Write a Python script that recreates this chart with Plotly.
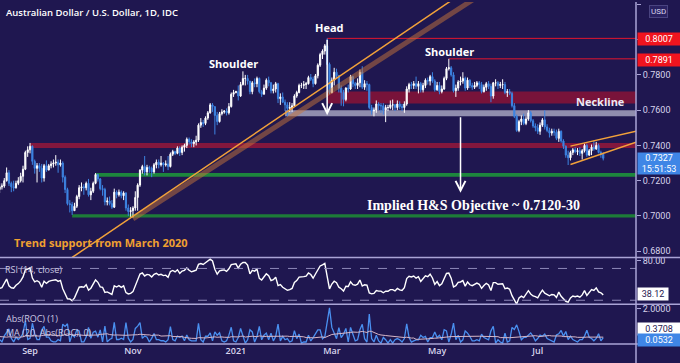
import numpy as np
import pandas as pd
import plotly.graph_objects as go

# ---------------- data (daily AUD/USD) ----------------
START_DATE = "2020-07-15"
END_DATE = "2021-08-10"
FIRST_OPEN = 0.7000

CLOSE = [
    # Jul 15 - Aug 12 2020 (warm-up, off screen)
    0.7020, 0.6990, 0.7000, 0.7020, 0.7110, 0.7140, 0.7090, 0.7100, 0.7120, 0.7140, 0.7170, 0.7170, 0.7145,
    0.7110, 0.7150, 0.7200, 0.7210, 0.7160, 0.7150, 0.7140, 0.7150,
    # Aug 13 - 31
    0.7165, 0.7170, 0.7200, 0.7245, 0.7185, 0.7165, 0.7160, 0.7185, 0.7200, 0.7225, 0.7265, 0.7360, 0.7375,
    # Sep
    0.7395, 0.7310, 0.7270, 0.7285, 0.7270, 0.7215, 0.7285, 0.7260, 0.7285, 0.7295, 0.7300, 0.7305, 0.7290,
    0.7300, 0.7220, 0.7150, 0.7070, 0.7065, 0.7030, 0.7055, 0.7110, 0.7160,
    # Oct
    0.7165, 0.7160, 0.7185, 0.7120, 0.7140, 0.7185, 0.7235, 0.7210, 0.7155, 0.7150, 0.7080, 0.7085, 0.7070,
    0.7050, 0.7135, 0.7120, 0.7135, 0.7115, 0.7130, 0.7045, 0.7025, 0.7030,
    # Nov
    0.7045, 0.7105, 0.7175, 0.7260, 0.7280, 0.7250, 0.7275, 0.7270, 0.7250, 0.7290, 0.7305, 0.7290, 0.7300,
    0.7290, 0.7295, 0.7280, 0.7350, 0.7365, 0.7355, 0.7385, 0.7360,
    # Dec
    0.7390, 0.7400, 0.7435, 0.7420, 0.7410, 0.7420, 0.7430, 0.7515, 0.7530, 0.7525, 0.7555, 0.7585, 0.7630,
    0.7620, 0.7570, 0.7535, 0.7580, 0.7590, 0.7595, 0.7585, 0.7620, 0.7690, 0.7700,
    # Jan 2021
    0.7705, 0.7680, 0.7745, 0.7780, 0.7780, 0.7765, 0.7705, 0.7755, 0.7750, 0.7780, 0.7705, 0.7690, 0.7725,
    0.7770, 0.7755, 0.7710, 0.7720, 0.7750, 0.7665, 0.7675, 0.7645,
    # Feb
    0.7630, 0.7610, 0.7615, 0.7625, 0.7680, 0.7700, 0.7740, 0.7740, 0.7745, 0.7750, 0.7785, 0.7775, 0.7750,
    0.7795, 0.7855, 0.7915, 0.7935, 0.7965, 0.7860, 0.7700,
    # Mar
    0.7770, 0.7815, 0.7795, 0.7725, 0.7700, 0.7660, 0.7725, 0.7720, 0.7790, 0.7750, 0.7740, 0.7755, 0.7815,
    0.7730, 0.7750, 0.7745, 0.7615, 0.7595, 0.7600, 0.7635, 0.7625, 0.7625, 0.7600,
    # Apr
    0.7615, 0.7615, 0.7630, 0.7630, 0.7615, 0.7635, 0.7620, 0.7615, 0.7635, 0.7720, 0.7745, 0.7740, 0.7750,
    0.7735, 0.7750, 0.7715, 0.7740, 0.7770, 0.7765, 0.7790, 0.7765, 0.7715,
    # May
    0.7740, 0.7705, 0.7720, 0.7780, 0.7835, 0.7840, 0.7800, 0.7710, 0.7725, 0.7760, 0.7765, 0.7780, 0.7725,
    0.7770, 0.7740, 0.7730, 0.7740, 0.7755, 0.7745, 0.7705, 0.7730,
    # Jun
    0.7750, 0.7735, 0.7680, 0.7755, 0.7755, 0.7740, 0.7745, 0.7745, 0.7700, 0.7705, 0.7695, 0.7625, 0.7565,
    0.7485, 0.7535, 0.7550, 0.7525, 0.7550, 0.7585, 0.7540, 0.7510, 0.7500,
    # Jul
    0.7480, 0.7515, 0.7545, 0.7505, 0.7485, 0.7470, 0.7480, 0.7475, 0.7440, 0.7480, 0.7425, 0.7395, 0.7345,
    0.7330, 0.7360, 0.7375, 0.7365, 0.7370, 0.7355, 0.7370, 0.7400, 0.7345,
    # Aug 2021
    0.7370, 0.7390, 0.7380, 0.7400, 0.7360, 0.7350, 0.7327,
]

HIGH = [
    0.7040, 0.7025, 0.7010, 0.7030, 0.7135, 0.7165, 0.7150, 0.7125, 0.7135, 0.7150, 0.7180, 0.7190, 0.7200,
    0.7150, 0.7160, 0.7215, 0.7240, 0.7215, 0.7175, 0.7190, 0.7165,
    0.7185, 0.7185, 0.7215, 0.7275, 0.7260, 0.7195, 0.7200, 0.7200, 0.7220, 0.7245, 0.7285, 0.7370, 0.7395,
    0.7414, 0.7400, 0.7320, 0.7300, 0.7300, 0.7295, 0.7295, 0.7315, 0.7295, 0.7310, 0.7320, 0.7345, 0.7320,
    0.7320, 0.7310, 0.7230, 0.7160, 0.7090, 0.7080, 0.7075, 0.7120, 0.7175,
    0.7190, 0.7180, 0.7195, 0.7210, 0.7160, 0.7195, 0.7243, 0.7240, 0.7215, 0.7175, 0.7160, 0.7105, 0.7110,
    0.7090, 0.7155, 0.7145, 0.7150, 0.7145, 0.7140, 0.7135, 0.7065, 0.7050,
    0.7055, 0.7140, 0.7185, 0.7265, 0.7290, 0.7340, 0.7290, 0.7285, 0.7280, 0.7300, 0.7320, 0.7320, 0.7340,
    0.7305, 0.7315, 0.7340, 0.7360, 0.7375, 0.7370, 0.7395, 0.7395,
    0.7400, 0.7410, 0.7445, 0.7445, 0.7435, 0.7430, 0.7455, 0.7525, 0.7555, 0.7545, 0.7565, 0.7595, 0.7640,
    0.7640, 0.7615, 0.7590, 0.7590, 0.7605, 0.7600, 0.7610, 0.7640, 0.7700, 0.7715,
    0.7710, 0.7740, 0.7760, 0.7820, 0.7800, 0.7800, 0.7760, 0.7765, 0.7780, 0.7790, 0.7785, 0.7715, 0.7745,
    0.7780, 0.7790, 0.7760, 0.7745, 0.7760, 0.7755, 0.7695, 0.7700,
    0.7660, 0.7645, 0.7645, 0.7640, 0.7690, 0.7710, 0.7750, 0.7755, 0.7765, 0.7760, 0.7795, 0.7805, 0.7790,
    0.7805, 0.7865, 0.7925, 0.7945, 0.7975, 0.8007, 0.7870,
    0.7785, 0.7840, 0.7835, 0.7800, 0.7740, 0.7715, 0.7730, 0.7745, 0.7800, 0.7795, 0.7760, 0.7780, 0.7830,
    0.7849, 0.7770, 0.7765, 0.7750, 0.7630, 0.7615, 0.7655, 0.7645, 0.7640, 0.7640,
    0.7630, 0.7630, 0.7655, 0.7660, 0.7635, 0.7655, 0.7650, 0.7635, 0.7650, 0.7735, 0.7755, 0.7760, 0.7765,
    0.7790, 0.7765, 0.7760, 0.7755, 0.7780, 0.7785, 0.7800, 0.7815, 0.7775,
    0.7760, 0.7760, 0.7740, 0.7790, 0.7845, 0.7891, 0.7850, 0.7815, 0.7745, 0.7770, 0.7790, 0.7815, 0.7790,
    0.7785, 0.7775, 0.7755, 0.7760, 0.7765, 0.7765, 0.7760, 0.7745,
    0.7760, 0.7765, 0.7750, 0.7760, 0.7775, 0.7765, 0.7760, 0.7775, 0.7760, 0.7720, 0.7720, 0.7705, 0.7640,
    0.7575, 0.7545, 0.7570, 0.7580, 0.7565, 0.7600, 0.7595, 0.7550, 0.7525,
    0.7520, 0.7530, 0.7555, 0.7599, 0.7520, 0.7500, 0.7495, 0.7495, 0.7490, 0.7495, 0.7485, 0.7435, 0.7400,
    0.7370, 0.7370, 0.7385, 0.7390, 0.7385, 0.7390, 0.7380, 0.7410, 0.7410,
    0.7380, 0.7405, 0.7425, 0.7420, 0.7410, 0.7370, 0.7360,
]

LOW = [
    0.6980, 0.6965, 0.6970, 0.6985, 0.7010, 0.7090, 0.7080, 0.7065, 0.7080, 0.7100, 0.7130, 0.7140, 0.7110,
    0.7090, 0.7110, 0.7145, 0.7180, 0.7140, 0.7120, 0.7130, 0.7110,
    0.7130, 0.7150, 0.7160, 0.7195, 0.7170, 0.7135, 0.7140, 0.7155, 0.7175, 0.7190, 0.7190, 0.7260, 0.7335,
    0.7355, 0.7290, 0.7240, 0.7190, 0.7250, 0.7190, 0.7195, 0.7250, 0.7260, 0.7270, 0.7275, 0.7285, 0.7245,
    0.7280, 0.7190, 0.7130, 0.7060, 0.7020, 0.7006, 0.7030, 0.7045, 0.7095,
    0.7140, 0.7120, 0.7145, 0.7110, 0.7090, 0.7130, 0.7180, 0.7195, 0.7145, 0.7115, 0.7060, 0.7060, 0.7060,
    0.7040, 0.7045, 0.7100, 0.7110, 0.7100, 0.7090, 0.7030, 0.7000, 0.6995,
    0.6991, 0.7030, 0.7030, 0.7165, 0.7240, 0.7230, 0.7230, 0.7245, 0.7220, 0.7240, 0.7270, 0.7270, 0.7280,
    0.7250, 0.7280, 0.7260, 0.7275, 0.7340, 0.7345, 0.7350, 0.7340,
    0.7345, 0.7365, 0.7385, 0.7405, 0.7390, 0.7390, 0.7400, 0.7420, 0.7500, 0.7505, 0.7515, 0.7545, 0.7580,
    0.7590, 0.7462, 0.7515, 0.7530, 0.7570, 0.7580, 0.7570, 0.7575, 0.7615, 0.7675,
    0.7695, 0.7655, 0.7675, 0.7740, 0.7740, 0.7745, 0.7690, 0.7690, 0.7730, 0.7730, 0.7695, 0.7675, 0.7690,
    0.7715, 0.7735, 0.7695, 0.7695, 0.7700, 0.7640, 0.7630, 0.7640,
    0.7595, 0.7564, 0.7590, 0.7590, 0.7620, 0.7670, 0.7695, 0.7725, 0.7720, 0.7720, 0.7745, 0.7765, 0.7730,
    0.7745, 0.7780, 0.7845, 0.7890, 0.7915, 0.7855, 0.7690,
    0.7695, 0.7740, 0.7780, 0.7700, 0.7625, 0.7622, 0.7650, 0.7700, 0.7715, 0.7730, 0.7720, 0.7720, 0.7730,
    0.7720, 0.7715, 0.7710, 0.7605, 0.7575, 0.7565, 0.7585, 0.7600, 0.7585, 0.7575,
    0.7532, 0.7595, 0.7605, 0.7600, 0.7595, 0.7600, 0.7605, 0.7595, 0.7585, 0.7625, 0.7700, 0.7720, 0.7720,
    0.7720, 0.7695, 0.7700, 0.7700, 0.7725, 0.7745, 0.7740, 0.7755, 0.7705,
    0.7710, 0.7690, 0.7695, 0.7715, 0.7770, 0.7825, 0.7790, 0.7700, 0.7675, 0.7710, 0.7740, 0.7750, 0.7710,
    0.7715, 0.7725, 0.7715, 0.7720, 0.7730, 0.7720, 0.7695, 0.7700,
    0.7710, 0.7720, 0.7645, 0.7665, 0.7735, 0.7720, 0.7725, 0.7720, 0.7690, 0.7675, 0.7685, 0.7615, 0.7555,
    0.7477, 0.7475, 0.7515, 0.7515, 0.7515, 0.7540, 0.7530, 0.7500, 0.7480,
    0.7465, 0.7460, 0.7505, 0.7490, 0.7475, 0.7445, 0.7455, 0.7455, 0.7430, 0.7420, 0.7415, 0.7380, 0.7330,
    0.7289, 0.7315, 0.7345, 0.7355, 0.7345, 0.7340, 0.7320, 0.7360, 0.7335,
    0.7340, 0.7345, 0.7370, 0.7375, 0.7355, 0.7330, 0.7315,
]

# annotated levels
LEVEL_HEAD = 0.8007
LEVEL_RSHOULDER = 0.7891
RES_BAND = (0.7638, 0.7706)
NECK_BAND = (0.7565, 0.7599)
RED_BAND = (0.7386, 0.7414)
GREEN_UP = (0.7222, 0.7244)
GREEN_LO = (0.6991, 0.7010)
OBJECTIVE_TIP = 0.7131
HEAD_ARROW_TIP = 0.7571
TREND_THIN = (("2020-09-25", 0.6765), ("2021-05-11", 0.8221))
TREND_THICK = (("2020-11-02", 0.6984), ("2021-05-25", 0.8232))
WEDGE_UP = (("2021-07-21", 0.7396), ("2021-08-30", 0.7480))
WEDGE_LO = (("2021-07-21", 0.7292), ("2021-08-30", 0.7418))
LAST_PRICE, LAST_TIME = "0.7327", "15:51:53"
RSI_LAST, ROC_MA_LAST, ROC_LAST = "38.12", "0.3708", "0.0532"

PRICE_TICKS = [0.68, 0.70, 0.72, 0.74, 0.76, 0.78, 0.80, 0.82]
HIDDEN_TICKS = [0.80]  # covered by the 0.8007 level label in the reference
X_TICKS = ["2020-09-01", "2020-11-02", "2021-01-01", "2021-03-01", "2021-05-03", "2021-07-01"]
X_TICK_TEXT = ["Sep", "Nov", "2021", "Mar", "May", "Jul"]

# ---------------- prepare ----------------
dates = pd.bdate_range(START_DATE, END_DATE)
n = min(len(dates), len(CLOSE), len(HIGH), len(LOW))
dates = dates[:n]
close = np.array(CLOSE[:n])
open_ = np.concatenate([[FIRST_OPEN], close[:-1]])
high = np.maximum.reduce([np.array(HIGH[:n]), open_, close])
low = np.minimum.reduce([np.array(LOW[:n]), open_, close])

s = pd.Series(close)
delta = s.diff()
gain = delta.clip(lower=0)
loss = -delta.clip(upper=0)
avg_g = gain.ewm(alpha=1 / 14, adjust=False).mean()
avg_l = loss.ewm(alpha=1 / 14, adjust=False).mean()
rsi = 100 - 100 / (1 + avg_g / avg_l)
roc = (s.pct_change() * 100).abs()
roc_ma = roc.rolling(20, min_periods=1).mean()

# ---------------- geometry helpers ----------------
W, H = 680, 363
PL, PR, PT, PB = 0, 44, 0, 19
PW, PH = W - PL - PR, H - PT - PB


def fx(px):
    return px / PW


def fy(py):
    return 1 - py / PH


BG = "#1f1750"
SEP = "#aaa4d6"
TXT = "#d8d4ec"
BLUE = "#3d84e2"

fig = go.Figure()
fig.add_trace(go.Candlestick(
    x=dates, open=open_, high=high, low=low, close=close,
    increasing=dict(line=dict(color="#ffffff", width=1), fillcolor="#ffffff"),
    decreasing=dict(line=dict(color=BLUE, width=1), fillcolor=BLUE),
    whiskerwidth=0, xaxis="x", yaxis="y", hoverinfo="skip",
))
fig.add_trace(go.Scatter(x=dates, y=rsi, mode="lines", line=dict(color="#ffffff", width=1.4),
                         xaxis="x", yaxis="y2", hoverinfo="skip"))
fig.add_trace(go.Scatter(x=dates, y=roc, mode="lines", line=dict(color="#4a90f0", width=1.3),
                         xaxis="x", yaxis="y3", hoverinfo="skip"))
fig.add_trace(go.Scatter(x=dates, y=roc_ma, mode="lines", line=dict(color="#d8b8c8", width=1),
                         xaxis="x", yaxis="y3", hoverinfo="skip"))

shapes = []
FAR = "2021-09-30"


def band(x0, lo_hi, color):
    shapes.append(dict(type="rect", xref="x", yref="y", x0=x0, x1=FAR, y0=lo_hi[0], y1=lo_hi[1],
                       fillcolor=color, line=dict(width=0), layer="below"))


band("2021-02-25", RES_BAND, "rgba(128,20,56,0.92)")
band("2021-02-01", NECK_BAND, "rgba(165,162,190,0.85)")
band("2020-09-01", RED_BAND, "rgba(140,24,60,0.92)")
band("2020-10-09", GREEN_UP, "rgba(30,140,60,0.95)")
band("2020-09-25", GREEN_LO, "rgba(30,130,55,0.95)")

for x0, lvl in (("2021-02-25", LEVEL_HEAD), ("2021-05-10", LEVEL_RSHOULDER)):
    shapes.append(dict(type="line", xref="x", yref="y", x0=x0, x1=FAR, y0=lvl, y1=lvl,
                       line=dict(color="#e3162e", width=1), layer="below"))

(a, b) = TREND_THICK
shapes.append(dict(type="line", xref="x", yref="y", x0=a[0], y0=a[1], x1=b[0], y1=b[1],
                   line=dict(color="rgba(200,118,58,0.5)", width=5)))
(a, b) = TREND_THIN
shapes.append(dict(type="line", xref="x", yref="y", x0=a[0], y0=a[1], x1=b[0], y1=b[1],
                   line=dict(color="#f2a23a", width=1.5)))
for (a, b) in (WEDGE_UP, WEDGE_LO):
    shapes.append(dict(type="line", xref="x", yref="y", x0=a[0], y0=a[1], x1=b[0], y1=b[1],
                       line=dict(color="#f2a23a", width=1.5)))

# RSI dashed bands
for lvl in (70, 30):
    shapes.append(dict(type="line", xref="paper", yref="y2", x0=0, x1=1, y0=lvl, y1=lvl,
                       line=dict(color="#8e88b8", width=1, dash="dash")))

# panel separators and axis line
for py in (257, 304, 344):
    shapes.append(dict(type="line", xref="paper", yref="paper", x0=0, x1=W / PW, y0=fy(py), y1=fy(py),
                       line=dict(color=SEP, width=1.5)))
shapes.append(dict(type="line", xref="paper", yref="paper", x0=1, x1=1, y0=fy(H), y1=1,
                   line=dict(color=SEP, width=1.5)))

ann = []


def text(px, py, t, size=11, color="#ffffff", anchor="center", family="Open Sans", weight=700):
    ann.append(dict(xref="paper", yref="paper", x=fx(px), y=fy(py), text=t, showarrow=False,
                    xanchor=anchor, yanchor="middle",
                    font=dict(size=size, color=color, family=family, weight=weight)))


text(4, 11, "Australian Dollar / U.S. Dollar, 1D, IDC", size=9.5, anchor="left", weight=600)
text(329, 26, "Head", size=11)
text(234, 62, "Shoulder", size=11)
text(450, 50, "Shoulder", size=11)
text(600, 100, "Neckline", size=11, color="#ece8f4")
text(474, 205, "Implied H&S Objective ~ 0.7120-30", size=14, family="Liberation Serif")
text(12, 242, "Trend support from March 2020", size=11, color="#f0a030", anchor="left")
text(3, 269, "RSI (14, close)", size=9, color="#cdc9e2", anchor="left", weight=400)
text(4, 318, "Abs(ROC) (1)", size=9, color="#cdc9e2", anchor="left", weight=400)
text(4, 332, "MA (20, Abs(ROC), 0)", size=9, color="#cdc9e2", anchor="left", weight=400)

# arrows
for xd, tip in (("2021-02-25", HEAD_ARROW_TIP), ("2021-05-17", OBJECTIVE_TIP)):
    ann.append(dict(xref="x", yref="y", x=xd, y=tip, ax=0, ay=-77, showarrow=True,
                    arrowhead=5, arrowsize=1.3, arrowwidth=1.5, arrowcolor="#ffffff", standoff=0, text=""))


def label(py, t, bg, fg="#ffffff", w=40, h=10):
    ann.append(dict(xref="paper", yref="paper", x=fx(637), y=fy(py), xanchor="left", yanchor="middle",
                    text=t, showarrow=False, bgcolor=bg, width=w, height=h, borderpad=1, align="center",
                    font=dict(size=9, color=fg, family="Roboto")))


label(37, str(LEVEL_HEAD), "#f0141e")
label(58, str(LEVEL_RSHOULDER), "#f0141e")
label(162.5, LAST_PRICE + "<br>" + LAST_TIME, "#3f86e6", h=19)
label(294, RSI_LAST, "#ffffff", fg=BG, w=28)
label(329, ROC_MA_LAST, "#ffffff", fg=BG, w=40)
label(340, ROC_LAST, "#3f86e6", w=40)
ann.append(dict(xref="paper", yref="paper", x=fx(658), y=fy(10), text="USD", showarrow=False,
                xanchor="center", yanchor="middle", bgcolor="#2a2262", bordercolor="#4a4480",
                borderwidth=1, borderpad=1, font=dict(size=8, color=TXT, family="Roboto")))

yfont = dict(size=9, color=TXT, family="Roboto")
fig.update_layout(
    width=W, height=H, margin=dict(l=PL, r=PR, t=PT, b=PB),
    paper_bgcolor=BG, plot_bgcolor=BG, showlegend=False,
    shapes=shapes, annotations=ann,
    xaxis=dict(domain=[0, 1], anchor="y3", type="date",
               range=["2020-08-13 04:00", "2021-08-30 00:00"],
               rangebreaks=[dict(bounds=["sat", "mon"])],
               rangeslider=dict(visible=False), showgrid=False, zeroline=False, showline=False,
               ticks="", tickvals=X_TICKS, ticktext=X_TICK_TEXT,
               tickfont=dict(size=9, color=TXT, family="Open Sans", weight=600)),
    yaxis=dict(domain=[fy(257), 1], range=[0.67645, 0.82132], side="right", anchor="x",
               tickvals=PRICE_TICKS,
               ticktext=["" if v in HIDDEN_TICKS else f"{v:.4f}" for v in PRICE_TICKS],
               ticks="outside", ticklen=4, tickcolor=SEP, tickfont=yfont,
               showgrid=False, zeroline=False, showline=False),
    yaxis2=dict(domain=[fy(304), fy(257)], range=[25, 83.75], side="right", anchor="x",
                tickvals=[80], ticktext=["80.00"], ticks="outside", ticklen=4, tickcolor=SEP,
                tickfont=yfont, showgrid=False, zeroline=False, showline=False),
    yaxis3=dict(domain=[0, fy(304)], range=[-0.05, 2.25], side="right", anchor="x",
                tickvals=[2], ticktext=["2.0000"], ticks="outside", ticklen=4, tickcolor=SEP,
                tickfont=yfont, showgrid=False, zeroline=False, showline=False),
)

fig.write_html("out.html", config={"displayModeBar": False})
